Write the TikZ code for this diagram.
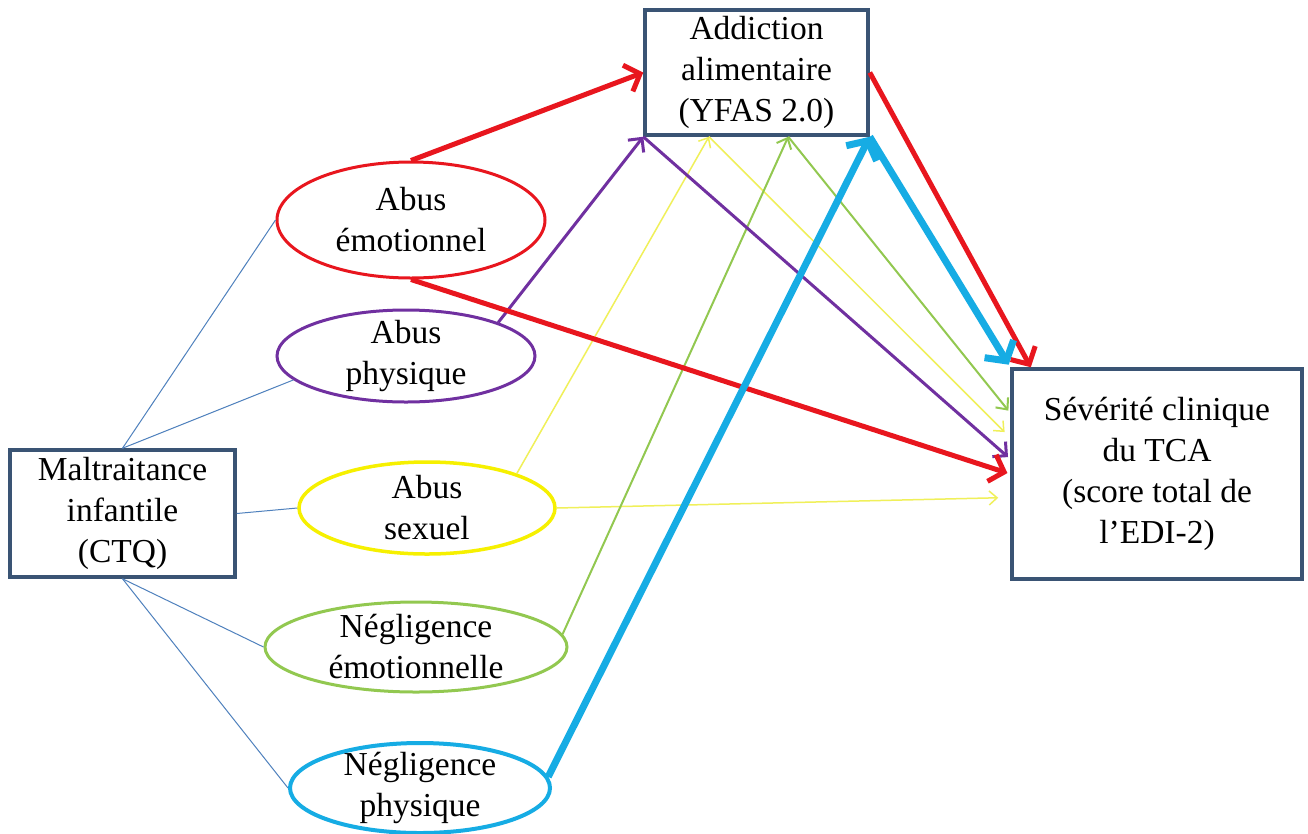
\documentclass[tikz,border=0pt]{standalone}
\usepackage{fontspec}
\setmainfont{Liberation Serif}
\usetikzlibrary{shapes.geometric,arrows.meta,calc}
\definecolor{boxcol}{RGB}{58,84,116}
\definecolor{redc}{RGB}{232,22,30}
\definecolor{purc}{RGB}{112,48,160}
\definecolor{yelc}{RGB}{246,240,0}
\definecolor{yelline}{RGB}{240,240,90}
\definecolor{grnc}{RGB}{146,200,80}
\definecolor{cyac}{RGB}{22,172,228}
\definecolor{bluec}{RGB}{79,129,189}
\begin{document}
\begin{tikzpicture}[x=1pt,y=-1pt,
  txt/.style={font=\fontsize{33.5}{41}\selectfont, align=center, text=black},
  rbox/.style={draw=boxcol, line width=3.5pt, fill=white, txt, inner sep=0pt},
  ell/.style={ellipse, draw=#1, line width=3pt, fill=white, txt, inner xsep=0pt, inner ysep=-22pt},
  bl/.style={draw=bluec, line width=1pt},
  redarr/.style={draw=redc, line width=5pt, -{Straight Barb[length=13pt,width=28pt]}},
  cyaarr/.style={draw=cyac, line width=7pt, -{Straight Barb[length=14pt,width=34pt]}},
  purarr/.style={draw=purc, line width=3pt, -{Straight Barb[length=10pt,width=20pt]}},
  yelarr/.style={draw=yelline, line width=1.5pt, -{Straight Barb[length=8pt,width=14pt]}},
  grnarr/.style={draw=grnc, line width=2pt, -{Straight Barb[length=9pt,width=16pt]}},
]
\useasboundingbox[fill=white] (0,0) rectangle (1308,833);

% boxes
\node[rbox, minimum width=223pt, minimum height=125pt] (yfas) at (756.5,72.5) {Addiction\\alimentaire\\(YFAS 2.0)};
\node[rbox, minimum width=290pt, minimum height=210pt] (edi) at (1157,474) {Sévérité clinique\\du TCA\\(score total de\\l’EDI-2)};
\node[rbox, minimum width=225pt, minimum height=127pt] (ctq) at (122.5,513.5) {Maltraitance\\infantile\\(CTQ)};

% ellipses
\node[ell=redc, minimum width=268pt, minimum height=116pt] (ae) at (411,220) {Abus\\émotionnel};
\node[ell=purc, minimum width=258pt, minimum height=92pt] (ap) at (406,356) {Abus\\physique};
\node[ell=yelc, line width=3.5pt, minimum width=256pt, minimum height=92pt] (as) at (427,508) {Abus\\sexuel};
\node[ell=grnc, minimum width=302pt, minimum height=90pt] (ne) at (416,647) {Négligence\\émotionnelle};
\node[ell=cyac, line width=4pt, minimum width=260pt, minimum height=90pt] (np) at (420,788) {Négligence\\physique};

% connection points
\coordinate (yb) at ($(yfas.south west)!0.29!(yfas.south east)$);
\coordinate (gb) at ($(yfas.south west)!0.64!(yfas.south east)$);
\coordinate (eR) at ($(edi.north west)!0.07!(edi.north east)$);
\coordinate (eG) at ($(edi.north west)!0.214!(edi.south west)$);
\coordinate (eY) at ($(edi.north west)!0.33!(edi.south west)$);
\coordinate (eP) at ($(edi.north west)!0.43!(edi.south west)$);
\coordinate (eY2) at ($(edi.north west)!0.61!(edi.south west)$);

% blue links
\draw[bl] (ctq.north) -- (ae.west);
\draw[bl] (ctq.north) -- (ap.192);
\draw[bl] (ctq.east) -- (as.west);
\draw[bl] (ctq.south) -- (ne.west);
\draw[bl] (ctq.south) -- (np.west);

% yellow
\draw[yelarr] (as.21) -- (yb);
\draw[yelarr, shorten >=8pt] (yb) -- (eY);
\draw[yelarr, shorten >=12pt] (as.east) -- (eY2);

% green
\draw[grnarr] (ne.5) -- (gb);
\draw[grnarr, shorten >=3pt] (gb) -- (eG);

% purple
\draw[purarr] (ap.20) -- (yfas.south west);
\draw[purarr, shorten >=3pt] (yfas.south west) -- (eP);

% red
\draw[redarr] (ae.north) -- (yfas.west);
\draw[redarr, shorten >=3pt] (ae.south) -- (edi.west);
\draw[redarr] (yfas.east) -- (eR);

% cyan
\draw[cyaarr] (np.5) -- (yfas.south east);
\draw[cyaarr, shorten >=3pt] (yfas.south east) -- (edi.north west);
\end{tikzpicture}
\end{document}
